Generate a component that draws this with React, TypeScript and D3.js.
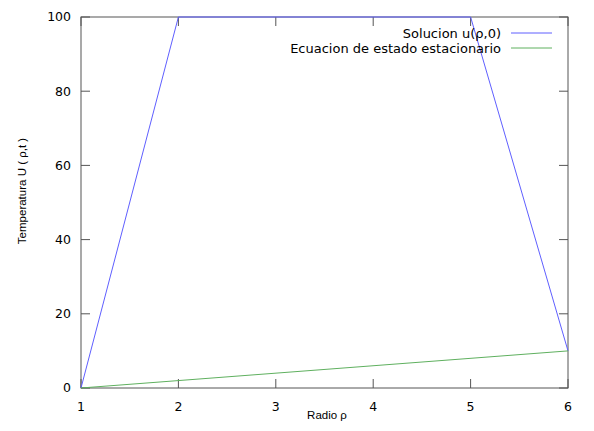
import * as d3 from "d3";
import { useEffect, useRef } from "react";

// values
const radio = [1, 2, 5, 6];
const solucion = [0, 100, 100, 10];
const radioEst = [1, 6];
const estacionario = [0, 10];
const xTicks = [1, 2, 3, 4, 5, 6];
const yTicks = [0, 20, 40, 60, 80, 100];
const seriesNames = ["Solucion u(ρ,0)", "Ecuacion de estado estacionario"];
const seriesColors = ["#5f5fff", "#5fb05f"];

export default function App() {
  const svgRef = useRef<SVGSVGElement>(null);

  const W = 594;
  const H = 431;
  const margin = { top: 17, right: 26, bottom: 43, left: 81 };
  const width = W - margin.left - margin.right;
  const height = H - margin.top - margin.bottom;

  useEffect(() => {
    const svg = d3.select(svgRef.current);
    svg.selectAll("*").remove();

    const x = d3.scaleLinear().domain([1, 6]).range([0, width]);
    const y = d3.scaleLinear().domain([0, 100]).range([height, 0]);

    const g = svg.append("g").attr("transform", `translate(${margin.left}, ${margin.top})`);
    const tickFont = "'DejaVu Sans', sans-serif";
    const border = "#555";

    // ticks (inward, mirrored)
    xTicks.forEach((t) => {
      g.append("line").attr("x1", x(t)).attr("x2", x(t)).attr("y1", height).attr("y2", height - 9).attr("stroke", border);
      g.append("line").attr("x1", x(t)).attr("x2", x(t)).attr("y1", 0).attr("y2", 9).attr("stroke", border);
      g.append("text")
        .attr("x", x(t))
        .attr("y", height + 23)
        .attr("text-anchor", "middle")
        .attr("font-family", tickFont)
        .attr("font-size", 12.5)
        .attr("fill", "#000")
        .text(t);
    });
    yTicks.forEach((t) => {
      g.append("line").attr("x1", 0).attr("x2", 9).attr("y1", y(t)).attr("y2", y(t)).attr("stroke", border);
      g.append("line").attr("x1", width).attr("x2", width - 9).attr("y1", y(t)).attr("y2", y(t)).attr("stroke", border);
      g.append("text")
        .attr("x", -10)
        .attr("y", y(t))
        .attr("dy", "0.35em")
        .attr("text-anchor", "end")
        .attr("font-family", tickFont)
        .attr("font-size", 12.5)
        .attr("fill", "#000")
        .text(t);
    });

    g.append("rect")
      .attr("x", 0)
      .attr("y", 0)
      .attr("width", width)
      .attr("height", height)
      .attr("fill", "none")
      .attr("stroke", border);

    // lines
    const line = d3.line<[number, number]>()
      .x((d) => x(d[0]))
      .y((d) => y(d[1]));

    g.append("path")
      .attr("d", line(radio.map((r, i) => [r, solucion[i]] as [number, number])))
      .attr("fill", "none")
      .attr("stroke", seriesColors[0])
      .attr("stroke-width", 1);

    g.append("path")
      .attr("d", line(radioEst.map((r, i) => [r, estacionario[i]] as [number, number])))
      .attr("fill", "none")
      .attr("stroke", seriesColors[1])
      .attr("stroke-width", 1);

    // legend
    seriesNames.forEach((name, i) => {
      const ly = 33 + i * 15;
      svg.append("text")
        .attr("x", 501)
        .attr("y", ly)
        .attr("dy", "0.35em")
        .attr("text-anchor", "end")
        .attr("font-family", tickFont)
        .attr("font-size", 13)
        .attr("fill", "#000")
        .text(name);
      svg.append("line")
        .attr("x1", 511)
        .attr("x2", 552)
        .attr("y1", ly)
        .attr("y2", ly)
        .attr("stroke", seriesColors[i]);
    });

    // axis labels
    svg.append("text")
      .attr("x", 327)
      .attr("y", 419)
      .attr("text-anchor", "middle")
      .attr("font-family", "'Liberation Sans', Arial, sans-serif")
      .attr("font-size", 11.5)
      .attr("fill", "#000")
      .text("Radio ρ");

    svg.append("text")
      .attr("transform", `translate(26, 191) rotate(-90)`)
      .attr("text-anchor", "middle")
      .attr("font-family", "'Liberation Sans', Arial, sans-serif")
      .attr("font-size", 11.5)
      .attr("fill", "#000")
      .text("Temperatura U ( ρ,t )");
  }, []);

  return (
    <svg
      ref={svgRef}
      width={W}
      height={H}
      style={{ position: "absolute", left: 0, top: 0, background: "#fff" }}
    ></svg>
  );
}
